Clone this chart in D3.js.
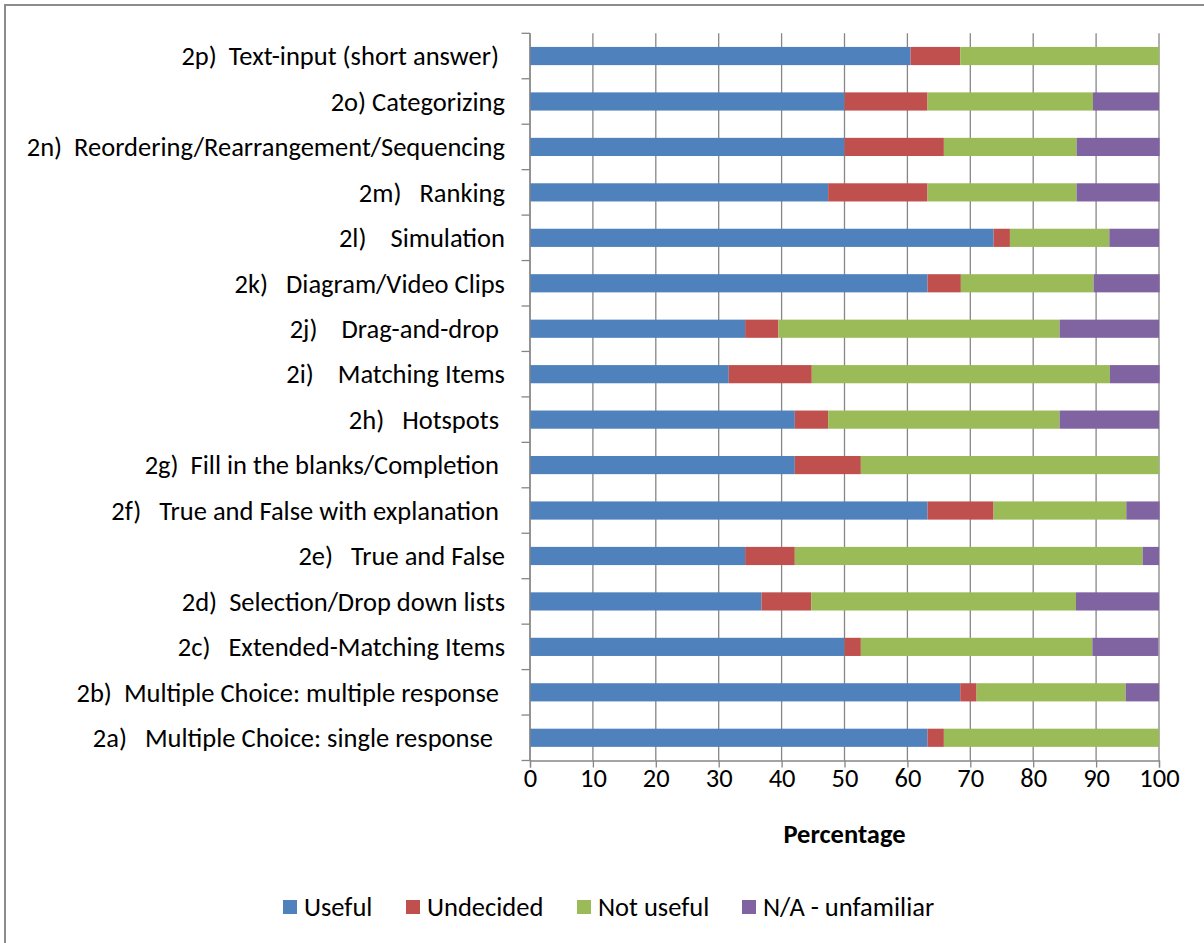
<!DOCTYPE html>
<html>
<head>
<meta charset="utf-8">
<script src="https://cdn.jsdelivr.net/npm/d3@7"></script>
<style>
  html, body { margin: 0; padding: 0; background: #fff; }
  svg text { font-family: Carlito, Calibri, Lato, "Open Sans", sans-serif; white-space: pre; fill: #000; }
</style>
</head>
<body>
<svg id="chart" width="1204" height="943"></svg>
<script>
// Categories, listed top to bottom
const categories = [
  "2p)  Text-input (short answer) ",
  "2o) Categorizing",
  "2n)  Reordering/Rearrangement/Sequencing",
  "2m)   Ranking",
  "2l)    Simulation",
  "2k)   Diagram/Video Clips",
  "2j)    Drag-and-drop ",
  "2i)    Matching Items",
  "2h)   Hotspots ",
  "2g)  Fill in the blanks/Completion ",
  "2f)   True and False with explanation ",
  "2e)   True and False",
  "2d)  Selection/Drop down lists",
  "2c)   Extended-Matching Items",
  "2b)  Multiple Choice: multiple response ",
  "2a)   Multiple Choice: single response  "
];
const seriesNames = ["Useful", "Undecided", "Not useful", "N/A - unfamiliar"];
const useful     = [60.5, 50.0, 50.0, 47.4, 73.7, 63.2, 34.2, 31.6, 42.1, 42.1, 63.2, 34.2, 36.8, 50.0, 68.4, 63.2];
const undecided  = [ 7.9, 13.2, 15.8, 15.8,  2.6,  5.3,  5.3, 13.2,  5.3, 10.5, 10.5,  7.9,  7.9,  2.6,  2.6,  2.6];
const notUseful  = [31.6, 26.3, 21.1, 23.7, 15.8, 21.1, 44.7, 47.4, 36.8, 47.4, 21.1, 55.3, 42.1, 36.8, 23.7, 34.2];
const naUnfam    = [ 0.0, 10.5, 13.2, 13.2,  7.9, 10.5, 15.8,  7.9, 15.8,  0.0,  5.3,  2.6, 13.2, 10.5,  5.3,  0.0];
const xTicks = [0, 10, 20, 30, 40, 50, 60, 70, 80, 90, 100];
const colors = ["#4f81bd", "#c0504d", "#9bbb59", "#8064a2"];

const rows = categories.map((c, i) => ({
  cat: c, "Useful": useful[i], "Undecided": undecided[i],
  "Not useful": notUseful[i], "N/A - unfamiliar": naUnfam[i]
}));

const FS = "26.5px";
const svg = d3.select("#chart");
// outer chart border
svg.append("rect").attr("x", 5).attr("y", 5).attr("width", 1240).attr("height", 1000)
  .attr("fill", "none").attr("stroke", "#8c8c8c").attr("stroke-width", 2);

const pLeft = 530, pRight = 1159, pTop = 33.3, pBottom = 760.5;
const x = d3.scaleLinear().domain([0, 100]).range([pLeft, pRight]);
const y = d3.scaleBand().domain(categories).range([pTop, pBottom]).paddingInner(0).paddingOuter(0);
const barH = y.bandwidth() * 0.4;

// gridlines
svg.append("g").selectAll("line").data(xTicks).join("line")
  .attr("x1", d => x(d)).attr("x2", d => x(d))
  .attr("y1", pTop).attr("y2", pBottom)
  .attr("stroke", "#868686").attr("stroke-width", 1.3);

// bars
const stack = d3.stack().keys(seriesNames)(rows);
svg.append("g").selectAll("g").data(stack).join("g")
  .attr("fill", (d, i) => colors[i])
  .selectAll("rect").data(d => d).join("rect")
  .attr("x", d => x(d[0]))
  .attr("width", d => Math.max(0, x(d[1]) - x(d[0])))
  .attr("y", d => y(d.data.cat) + (y.bandwidth() - barH) / 2)
  .attr("height", barH);

// y axis (category) with ticks at band boundaries
const yAxisG = svg.append("g");
yAxisG.append("line").attr("x1", pLeft).attr("x2", pLeft).attr("y1", pTop).attr("y2", pBottom)
  .attr("stroke", "#868686").attr("stroke-width", 1.3);
const bounds = categories.map(c => y(c)).concat([pBottom]);
yAxisG.selectAll("line.t").data(bounds).join("line").attr("class", "t")
  .attr("x1", pLeft - 8.5).attr("x2", pLeft).attr("y1", d => d).attr("y2", d => d)
  .attr("stroke", "#868686").attr("stroke-width", 1.3);
yAxisG.selectAll("text").data(categories).join("text")
  .attr("x", 505).attr("y", d => y(d) + y.bandwidth() / 2)
  .attr("dy", "0.35em").attr("text-anchor", "end")
  .style("font-size", FS).text(d => d);

// x axis
const xAxis = d3.axisBottom(x).tickValues(xTicks).tickSize(7).tickPadding(6).tickFormat(d3.format("d"));
const xg = svg.append("g").attr("transform", `translate(0,${pBottom})`).call(xAxis);
xg.select(".domain").attr("stroke", "#868686").attr("stroke-width", 1.3);
xg.selectAll(".tick line").attr("stroke", "#868686").attr("stroke-width", 1.3);
xg.selectAll(".tick text").style("font-size", FS)
  .style("font-family", "Carlito, Calibri, Lato, 'Open Sans', sans-serif").attr("fill", "#000")
  .attr("y", 26).attr("dy", 0);

svg.append("text").attr("x", x(50)).attr("y", 843).attr("text-anchor", "middle")
  .style("font-size", FS).style("font-weight", "bold").text("Percentage");

// legend
const legendX = [283, 406, 577, 742];
const lg = svg.append("g").selectAll("g").data(seriesNames).join("g")
  .attr("transform", (d, i) => `translate(${legendX[i]},900)`);
lg.append("rect").attr("width", 14).attr("height", 14).attr("fill", (d, i) => colors[i]);
lg.append("text").attr("x", 21).attr("y", 7).attr("dy", "0.35em")
  .style("font-size", FS).text(d => d);
</script>
</body>
</html>
